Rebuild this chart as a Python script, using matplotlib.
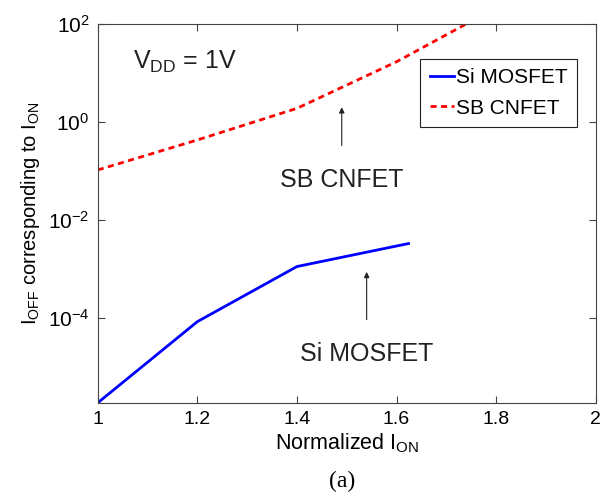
import matplotlib
matplotlib.use("Agg")
import matplotlib.pyplot as plt
from matplotlib.ticker import NullLocator, LogFormatterMathtext

plt.rcParams['font.family'] = ['Liberation Sans', 'DejaVu Sans']
plt.rcParams['mathtext.fontset'] = 'custom'
plt.rcParams['mathtext.rm'] = 'Liberation Sans'
plt.rcParams['mathtext.it'] = 'Liberation Sans'

# data
si_x = [1.0, 1.2, 1.4, 1.624]
si_y = [1.85e-6, 8.4e-5, 1.12e-3, 3.3e-3]
cn_x = [1.0, 1.2, 1.4, 1.6, 1.8]
cn_y = [0.105, 0.43, 1.9, 17.0, 215.0]
xticks = [1, 1.2, 1.4, 1.6, 1.8, 2]
xticklabels = ['1', '1.2', '1.4', '1.6', '1.8', '2']
yticks = [1e-4, 1e-2, 1e0, 1e2]

fig = plt.figure(figsize=(6.11, 5.01), dpi=100)
ax = fig.add_axes([0.160, 0.196, 0.815, 0.756])

ax.plot(si_x, si_y, color='#0000ff', lw=2, label='Si MOSFET')
ax.plot(cn_x, cn_y, color='#ff0000', lw=2, ls=(0, (2.2, 1.6)), label='SB CNFET')

ax.set_yscale('log')
ax.set_xlim(1, 2)
ax.set_ylim(1.85e-6, 100)
ax.set_xticks(xticks)
ax.set_xticklabels(xticklabels)
ax.set_yticks(yticks)
ax.yaxis.set_major_formatter(LogFormatterMathtext())
ax.yaxis.set_minor_locator(NullLocator())
ax.tick_params(direction='in', top=True, right=True, length=5,
               color='#444444', pad=6)
ax.tick_params(axis='x', labelsize=14)
ax.tick_params(axis='y', labelsize=15)
for s in ax.spines.values():
    s.set_color('#444444')

ax.set_xlabel(r'Normalized I$_{\mathrm{ON}}$', fontsize=15.5, labelpad=2)
ax.set_ylabel(r'I$_{\mathrm{OFF}}$ corresponding to I$_{\mathrm{ON}}$', fontsize=14.5, labelpad=4)

ax.text(1.07, 12, r'V$_{\mathrm{DD}}$ = 1V', fontsize=18, color='#222222')

ax.annotate('SB CNFET', xy=(1.49, 2.0), xytext=(1.49, 0.066), fontsize=18,
            ha='center', va='center', color='#222222',
            arrowprops=dict(arrowstyle='-|>', color='#222222', lw=0.8,
                            mutation_scale=8, shrinkA=14, shrinkB=0))
ax.annotate('Si MOSFET', xy=(1.54, 8.7e-4), xytext=(1.54, 1.85e-5), fontsize=18,
            ha='center', va='center', color='#222222',
            arrowprops=dict(arrowstyle='-|>', color='#222222', lw=0.8,
                            mutation_scale=8, shrinkA=14, shrinkB=0))

leg = ax.legend(loc='upper right', bbox_to_anchor=(0.962, 0.908), fontsize=15,
                handlelength=1.15, handletextpad=0.1, borderpad=0.45,
                borderaxespad=0, labelspacing=0.55, fancybox=False, framealpha=1)
leg.get_frame().set_edgecolor('#222222')
leg.get_frame().set_linewidth(0.8)

fig.text(0.56, 0.028, '(a)', fontsize=17, family='Liberation Serif', ha='center')

fig.savefig('out.png', dpi=100)
